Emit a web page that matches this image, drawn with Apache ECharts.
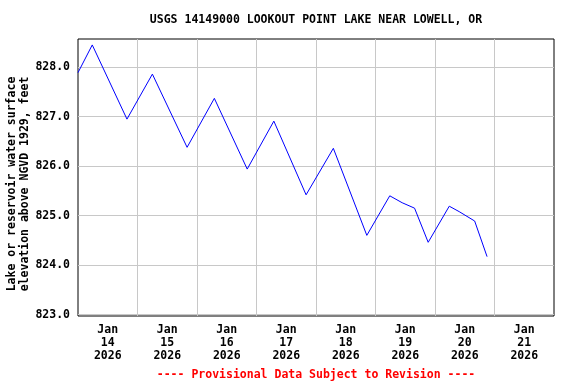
<!DOCTYPE html>
<html>
<head>
<meta charset="utf-8">
<script src="https://cdn.jsdelivr.net/npm/echarts@6/dist/echarts.min.js"></script>
<style>
html,body{margin:0;padding:0;background:#fff;}
#chart{width:576px;height:384px;}
</style>
</head>
<body>
<div id="chart"></div>
<script>
// Data (times in station local clock, treated as UTC for plotting)
const times = [
  "2026-01-14 00:00","2026-01-14 05:45","2026-01-14 19:45","2026-01-15 06:00",
  "2026-01-15 20:00","2026-01-16 07:00","2026-01-16 20:15","2026-01-17 07:00",
  "2026-01-17 20:00","2026-01-18 07:00","2026-01-18 20:30","2026-01-19 05:45",
  "2026-01-19 10:45","2026-01-19 15:45","2026-01-19 21:15","2026-01-20 05:45",
  "2026-01-20 09:45","2026-01-20 16:00","2026-01-20 21:00"
];
const elevation = [
  827.89, 828.45, 826.95, 827.86,
  826.38, 827.37, 825.94, 826.91,
  825.42, 826.36, 824.60, 825.40,
  825.26, 825.15, 824.46, 825.19,
  825.08, 824.89, 824.17
];
const yTicks = [823, 824, 825, 826, 827, 828];
const dayLabels = ["2026-01-14","2026-01-15","2026-01-16","2026-01-17","2026-01-18","2026-01-19","2026-01-20","2026-01-21"];
const xStart = "2026-01-14";
const xEnd = "2026-01-22";
const titleText = "USGS 14149000 LOOKOUT POINT LAKE NEAR LOWELL, OR";
const yNameLines = ["Lake or reservoir water surface", "elevation above NGVD 1929, feet"];
const footerText = "---- Provisional Data Subject to Revision ----";
const monthNames = ["Jan","Feb","Mar","Apr","May","Jun","Jul","Aug","Sep","Oct","Nov","Dec"];

function toMs(s) {
  const [d, t] = s.split(" ");
  const [Y, M, D] = d.split("-").map(Number);
  let h = 0, m = 0;
  if (t) { [h, m] = t.split(":").map(Number); }
  return Date.UTC(Y, M - 1, D, h, m);
}
const HOUR = 3600 * 1000;
const data = times.map((t, i) => [toMs(t), elevation[i]]);
const labelVals = dayLabels.map(d => toMs(d) + 12 * HOUR);
const gridVals = dayLabels.slice(1).map(d => toMs(d));

const FONT = "'DejaVu Sans Mono', 'Liberation Mono', monospace";

const chart = echarts.init(document.getElementById('chart'), null, {renderer: 'canvas'});
chart.setOption({
  animation: false,
  backgroundColor: '#fff',
  grid: {
    left: 78, right: 22, top: 39, bottom: 68,
    show: true, borderColor: '#000', borderWidth: 1, backgroundColor: 'transparent'
  },
  xAxis: {
    type: 'value',
    min: toMs(xStart), max: toMs(xEnd),
    axisLine: {show: false},
    axisTick: {show: false, customValues: gridVals},
    splitLine: {show: true, lineStyle: {color: '#c8c8c8', width: 1}},
    axisLabel: {
      customValues: labelVals,
      margin: 8,
      color: '#000',
      fontFamily: FONT, fontWeight: 'bold', fontSize: 11.5, lineHeight: 13,
      align: 'center',
      formatter: function (v) {
        const d = new Date(v);
        return monthNames[d.getUTCMonth()] + '\n' + d.getUTCDate() + '\n' + d.getUTCFullYear();
      }
    }
  },
  yAxis: {
    type: 'value',
    min: 822.97, max: 828.57,
    axisLine: {show: false},
    axisTick: {show: false, customValues: yTicks},
    splitLine: {show: true, lineStyle: {color: '#c8c8c8', width: 1}},
    axisLabel: {
      customValues: yTicks,
      margin: 8,
      color: '#000',
      fontFamily: FONT, fontWeight: 'bold', fontSize: 11.5,
      formatter: v => v.toFixed(1)
    }
  },
  series: [{
    type: 'line',
    data: data,
    showSymbol: false,
    lineStyle: {color: '#0000ff', width: 1},
    itemStyle: {color: '#0000ff'}
  }],
  graphic: [
    {type: 'text', x: 316, y: 20,
      style: {text: titleText, fill: '#000', font: 'bold 11.5px ' + FONT, textAlign: 'center', textVerticalAlign: 'middle'}},
    {type: 'text', x: 316, y: 375,
      style: {text: footerText, fill: '#ff0000', font: 'bold 11.5px ' + FONT, textAlign: 'center', textVerticalAlign: 'middle'}},
    {type: 'text', x: 18.5, y: 184, rotation: Math.PI / 2,
      style: {text: yNameLines.join('\n'), fill: '#000', font: 'bold 11.5px ' + FONT, lineHeight: 13, textAlign: 'center', textVerticalAlign: 'middle'}}
  ]
});
</script>
</body>
</html>
